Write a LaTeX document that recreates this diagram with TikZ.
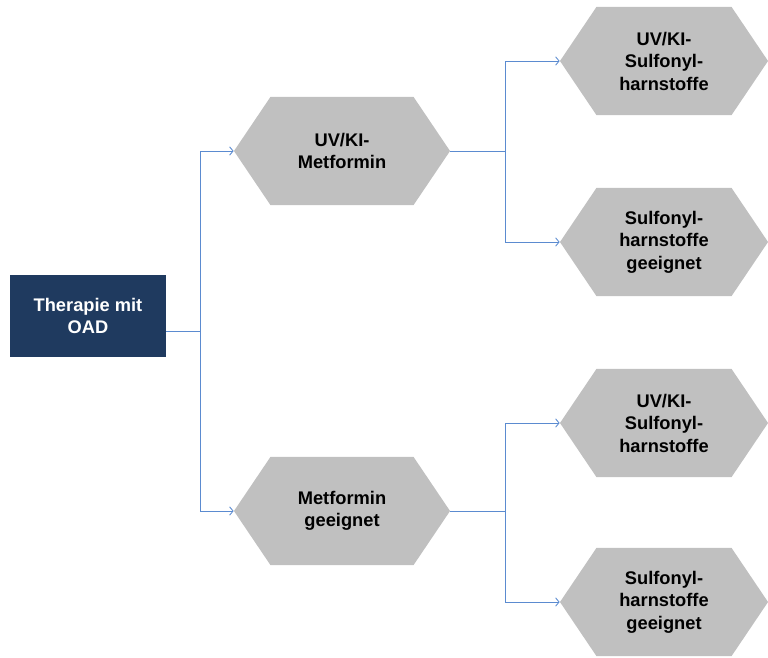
\documentclass[tikz,border=0pt]{standalone}
\usepackage{fontspec}
\setmainfont{Liberation Sans}
\usetikzlibrary{arrows.meta,shapes.symbols,calc}
\definecolor{navy}{HTML}{1F3A5F}
\definecolor{hexgray}{HTML}{C0C0C0}
\definecolor{linkblue}{HTML}{5B8BD0}
\tikzset{
  rootbox/.style={fill=navy,text=white,minimum width=3.9cm,minimum height=2.05cm,
    font=\bfseries\fontsize{13}{15.5}\selectfont,align=center},
  hexbox/.style={shape=signal,signal to=east and west,signal pointer angle=112,fill=hexgray,
    minimum width=5.4cm,minimum height=2.7cm,inner sep=0pt,
    font=\bfseries\fontsize{13}{16}\selectfont,align=center},
  link/.style={draw=linkblue,line width=0.6pt},
  arr/.style={link,-{Straight Barb[length=2.5pt,width=6pt]}}
}
\begin{document}
\begin{tikzpicture}[x=0.025cm,y=-0.025cm]
  \useasboundingbox (0,0) rectangle (768,657);
  \node[rootbox] (root) at (88,316) {Therapie mit\\OAD};
  \node[hexbox] (metA) at (342,151) {UV/KI-\\Metformin};
  \node[hexbox] (metB) at (342,511) {Metformin\\geeignet};
  \node[hexbox,minimum width=5.2cm] (sulA) at (664,61) {UV/KI-\\Sulfonyl-\\harnstoffe};
  \node[hexbox,minimum width=5.2cm] (sulB) at (664,242) {Sulfonyl-\\harnstoffe\\geeignet};
  \node[hexbox,minimum width=5.2cm] (sulC) at (664,423) {UV/KI-\\Sulfonyl-\\harnstoffe};
  \node[hexbox,minimum width=5.2cm] (sulD) at (664,602) {Sulfonyl-\\harnstoffe\\geeignet};
  %branch points
  \coordinate (j0) at (200,331);
  \coordinate (j1) at (505,151);
  \coordinate (j2) at (505,511);
  %connectors
  \draw[link] (root.east |- j0) -- (j0);
  \draw[arr] (j0) |- (metA.west);
  \draw[arr] (j0) |- (metB.west);
  \draw[link] (metA.east) -- (j1);
  \draw[arr] (j1) |- (sulA.west);
  \draw[arr] (j1) |- (sulB.west);
  \draw[link] (metB.east) -- (j2);
  \draw[arr] (j2) |- (sulC.west);
  \draw[arr] (j2) |- (sulD.west);
\end{tikzpicture}
\end{document}
